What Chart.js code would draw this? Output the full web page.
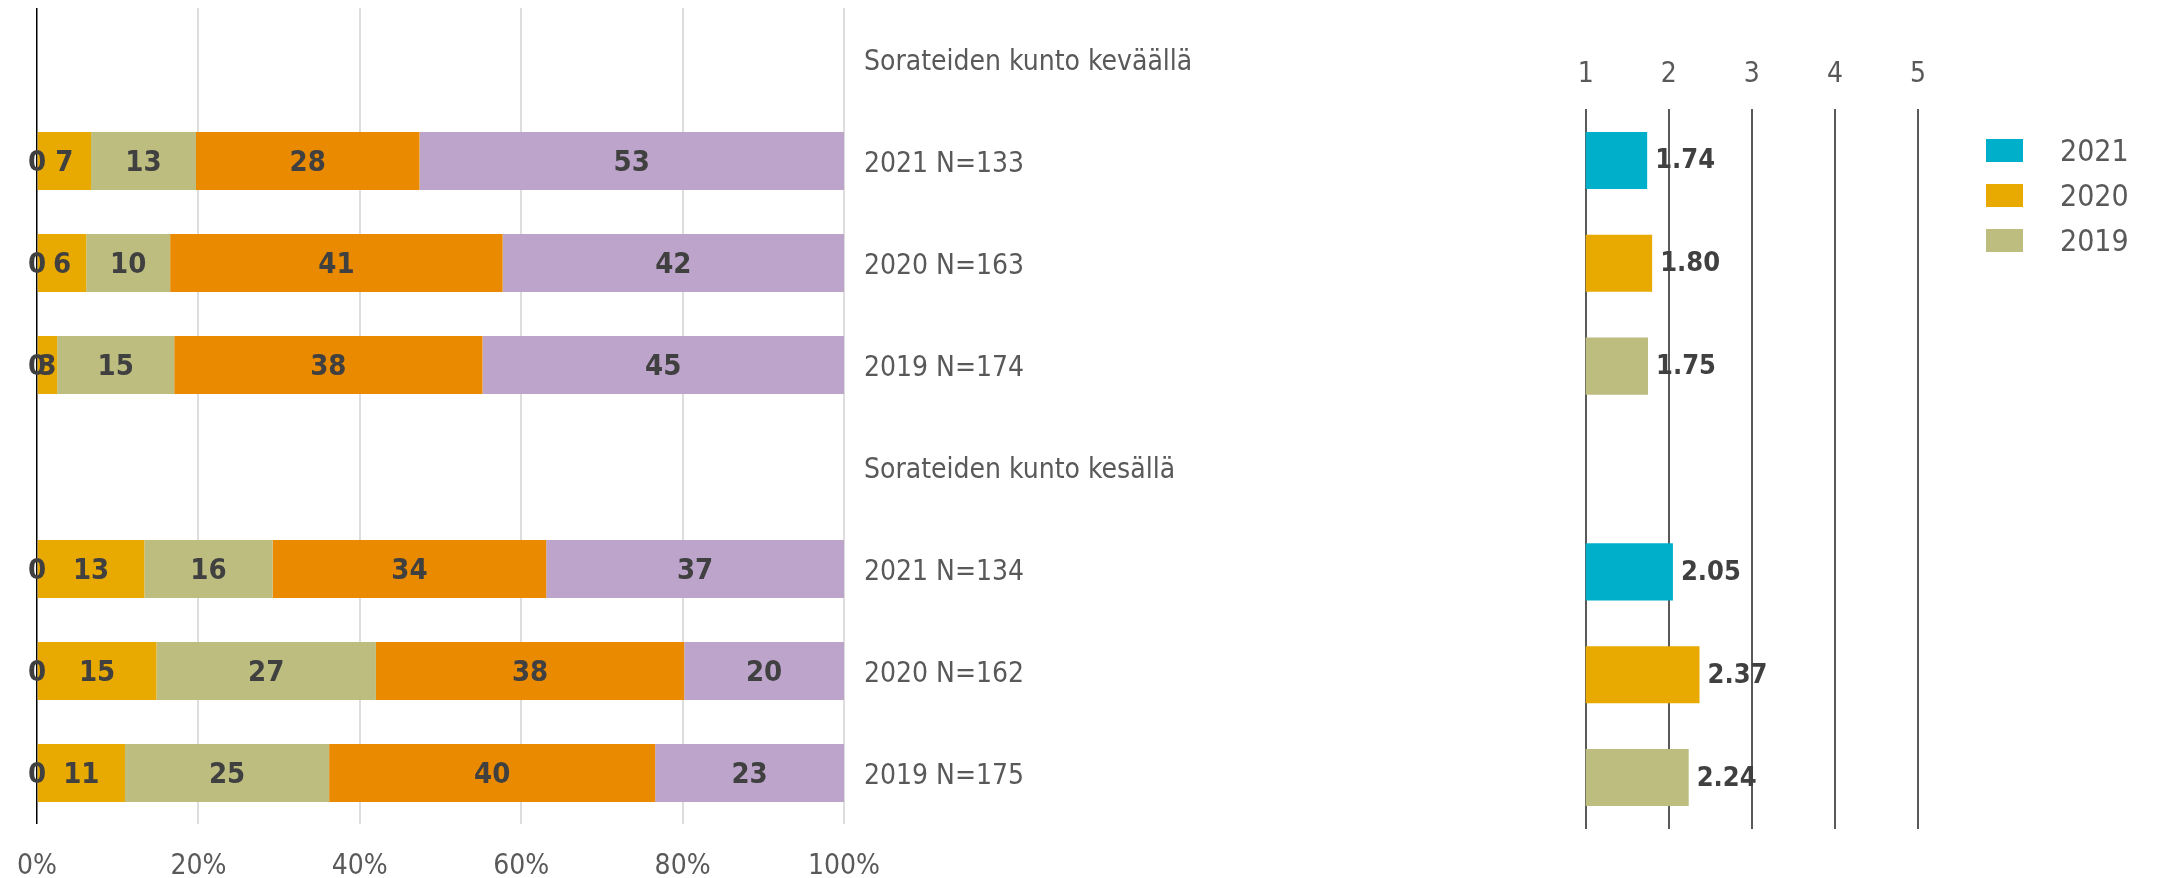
<!DOCTYPE html>
<html>
<head>
<meta charset="utf-8">
<title>Sorateiden kunto</title>
<script src="https://cdn.jsdelivr.net/npm/chart.js@4.4.1/dist/chart.umd.min.js"></script>
<style>
  body { margin: 0; background: #fff; width: 2167px; height: 878px; overflow: hidden; position: relative;
         font-family: "DejaVu Sans Condensed", "DejaVu Sans", sans-serif; }
  #left-chart { position: absolute; left: 0; top: 0; }
  #right-chart { position: absolute; left: 1400px; top: 0; }
  .legend-box { position: absolute; width: 37px; height: 23px; }
  .legend-text { position: absolute; font-size: 30px; color: #595959; line-height: 23px; }
</style>
</head>
<body>
<canvas id="left-chart" width="1400" height="878"></canvas>
<canvas id="right-chart" width="767" height="878"></canvas>
<div id="legend"></div>
<script>
// left chart: shares (%) of answers, rating 5 -> 1, header rows are empty
const rowLabels = ['Sorateiden kunto keväällä', '2021 N=133', '2020 N=163', '2019 N=174',
                   'Sorateiden kunto kesällä', '2021 N=134', '2020 N=162', '2019 N=175'];
const ratingNames = ['5', '4', '3', '2', '1'];
const share5 = [null, 0, 0, 0, null, 0, 0, 0];
const share4 = [null, 6.7, 6.1, 2.5, null, 13.3, 14.8, 10.9];
const share3 = [null, 13.0, 10.4, 14.5, null, 15.9, 27.2, 25.3];
const share2 = [null, 27.7, 41.2, 38.2, null, 33.9, 38.2, 40.4];
const share1 = [null, 52.6, 42.3, 44.8, null, 36.9, 19.8, 23.4];
const ratingColors = ['#00B0CA', '#E8A900', '#BDBD80', '#E98A00', '#BDA4CB'];
const pctTicks = [0, 20, 40, 60, 80, 100];

// right chart: mean rating per year
const years = ['2021', '2020', '2019'];
const meanSpring = [1.74, 1.80, 1.75];
const meanSummer = [2.05, 2.37, 2.24];
const yearColors = ['#00B0CA', '#E8A900', '#BDBD80'];
const meanRows = ['2021', '2020', '2019', '', '2021', '2020', '2019'];
const meanTicks = [1, 2, 3, 4, 5];

const FONT = '"DejaVu Sans Condensed", "DejaVu Sans", sans-serif';
const GREY = '#595959';

// draws the value text on each bar
const barLabels = {
  id: 'barLabels',
  afterDatasetsDraw(chart, args, opts) {
    const ctx = chart.ctx;
    ctx.save();
    ctx.font = opts.font;
    ctx.fillStyle = opts.color;
    ctx.textBaseline = 'middle';
    chart.data.datasets.forEach(function(ds, i) {
      const meta = chart.getDatasetMeta(i);
      meta.data.forEach(function(bar, j) {
        const v = ds.data[j];
        if (v === null || v === undefined) return;
        const p = bar.getProps(['x', 'y', 'base'], true);
        if (opts.inside) {
          ctx.textAlign = 'center';
          ctx.fillText(String(Math.round(v)), (p.x + p.base) / 2, p.y + 2);
        } else {
          ctx.textAlign = 'left';
          ctx.fillText(v.toFixed(2), p.x + 8, p.y + 1);
        }
      });
    });
    ctx.restore();
  }
};

// keep the plot area exactly where the layout padding puts it
function noEdgePadding(scale) {
  scale.paddingLeft = 0;
  scale.paddingRight = 0;
  scale.paddingTop = 0;
  scale.paddingBottom = 0;
}

const shares = [share5, share4, share3, share2, share1];

new Chart(document.getElementById('left-chart'), {
  type: 'bar',
  data: {
    labels: rowLabels,
    datasets: shares.map(function(s, i) {
      return {
        label: ratingNames[i],
        data: s,
        backgroundColor: ratingColors[i],
        borderWidth: 0,
        barPercentage: 0.57,
        categoryPercentage: 1.0
      };
    })
  },
  options: {
    indexAxis: 'y',
    responsive: false,
    animation: false,
    layout: { padding: { left: 37, top: 8, right: 0, bottom: 0 } },
    plugins: {
      legend: { display: false },
      tooltip: { enabled: false },
      barLabels: { inside: true, font: 'bold 29px ' + FONT, color: '#404040' }
    },
    scales: {
      x: {
        stacked: true,
        min: 0,
        max: 100,
        afterBuildTicks: function(scale) { scale.ticks = pctTicks.map(v => ({ value: v })); },
        ticks: { padding: 26, color: GREY, font: { size: 28, family: FONT }, callback: v => v + '%' },
        grid: {
          drawTicks: false,
          color: c => (c.tick && c.tick.value === 0) ? '#000000' : '#DDDDDD',
          lineWidth: c => (c.tick && c.tick.value === 0) ? 1.5 : 2
        },
        border: { display: false },
        afterFit: function(scale) { scale.height = 54; noEdgePadding(scale); }
      },
      y: {
        stacked: true,
        position: 'right',
        ticks: { padding: 20, labelOffset: 4, color: GREY, font: { size: 28, family: FONT }, autoSkip: false },
        grid: { display: false, drawTicks: false },
        border: { display: false },
        afterFit: function(scale) { scale.width = 1400 - 844; noEdgePadding(scale); }
      }
    }
  },
  plugins: [barLabels]
});

new Chart(document.getElementById('right-chart'), {
  type: 'bar',
  data: {
    labels: meanRows,
    datasets: years.map(function(yr, k) {
      const d = meanRows.map(() => null);
      d[k] = meanSpring[k];
      d[4 + k] = meanSummer[k];
      return {
        label: yr,
        data: d,
        backgroundColor: yearColors[k],
        borderWidth: 0,
        skipNull: true,
        barPercentage: 0.555,
        categoryPercentage: 1.0
      };
    })
  },
  options: {
    indexAxis: 'y',
    responsive: false,
    animation: false,
    layout: { padding: { left: 185.7, right: 767 - 518, top: 0, bottom: 878 - 829 } },
    plugins: {
      legend: { display: false },
      tooltip: { enabled: false },
      barLabels: { inside: false, font: 'bold 27px ' + FONT, color: '#404040' }
    },
    scales: {
      x: {
        position: 'top',
        min: 1,
        max: 5,
        afterBuildTicks: function(scale) { scale.ticks = meanTicks.map(v => ({ value: v })); },
        ticks: { padding: 17, color: GREY, font: { size: 28, family: FONT } },
        grid: { drawTicks: false, color: GREY, lineWidth: 2 },
        border: { display: false },
        afterFit: function(scale) { scale.height = 109; noEdgePadding(scale); }
      },
      y: { display: false }
    }
  },
  plugins: [barLabels]
});

// legend for the mean chart
const legend = document.getElementById('legend');
years.forEach(function(yr, k) {
  const box = document.createElement('div');
  box.className = 'legend-box';
  box.style.left = '1986px';
  box.style.top = (139 + 45 * k) + 'px';
  box.style.background = yearColors[k];
  const txt = document.createElement('div');
  txt.className = 'legend-text';
  txt.style.left = '2060px';
  txt.style.top = (139 + 45 * k) + 'px';
  txt.textContent = yr;
  legend.appendChild(box);
  legend.appendChild(txt);
});
</script>
</body>
</html>
